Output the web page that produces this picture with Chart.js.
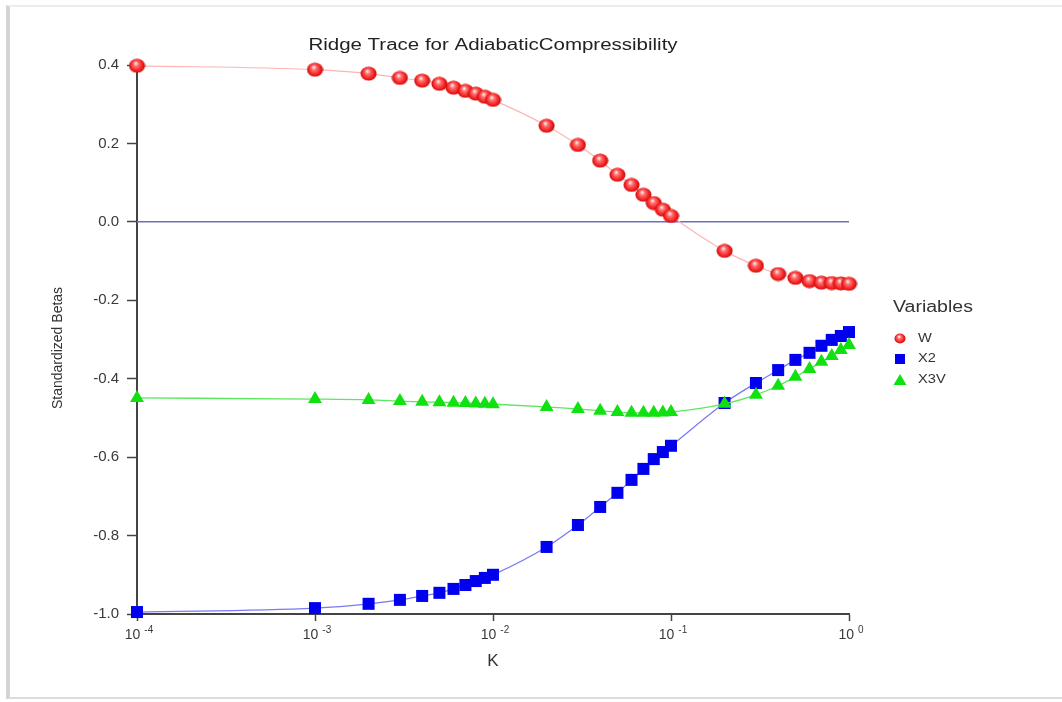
<!DOCTYPE html>
<html>
<head>
<meta charset="utf-8">
<script src="https://cdn.jsdelivr.net/npm/chart.js@4/dist/chart.umd.min.js"></script>
<style>
  html, body { margin: 0; padding: 0; background: #fff; }
  #wrap { position: relative; width: 1062px; height: 702px; }
  #frame {
    position: absolute; left: 6px; top: 5px; width: 1056px; height: 694px;
    border-left: 4px solid #d4d4d4; border-top: 2px solid #ececec; border-bottom: 2px solid #dcdcdc;
    box-sizing: border-box; pointer-events: none;
  }
</style>
</head>
<body>
<div id="wrap">
  <canvas id="c" width="1062" height="702"></canvas>
  <div id="frame"></div>
</div>
<script>
// ridge parameter K (log axis)
const kValues = [0.0001, 0.001, 0.002, 0.003, 0.004, 0.005, 0.006, 0.007, 0.008, 0.009,
                 0.01, 0.02, 0.03, 0.04, 0.05, 0.06, 0.07, 0.08, 0.09,
                 0.1, 0.2, 0.3, 0.4, 0.5, 0.6, 0.7, 0.8, 0.9, 1.0];

const betaW = [0.398, 0.388, 0.378, 0.367, 0.360, 0.352, 0.342, 0.334, 0.327, 0.319,
               0.311, 0.245, 0.196, 0.156, 0.120, 0.094, 0.069, 0.048, 0.031,
               0.015, -0.074, -0.112, -0.133, -0.143, -0.151, -0.155, -0.156, -0.157, -0.158];

const betaX2 = [-0.995, -0.985, -0.974, -0.964, -0.954, -0.946, -0.936, -0.926, -0.916, -0.908,
                -0.900, -0.829, -0.773, -0.727, -0.691, -0.658, -0.630, -0.605, -0.587,
                -0.571, -0.462, -0.411, -0.378, -0.352, -0.334, -0.316, -0.301, -0.291, -0.281];

const betaX3V = [-0.449, -0.452, -0.454, -0.457, -0.459, -0.460, -0.461, -0.462, -0.463, -0.464,
                 -0.465, -0.472, -0.477, -0.482, -0.485, -0.487, -0.487, -0.487, -0.486,
                 -0.485, -0.464, -0.441, -0.418, -0.395, -0.375, -0.357, -0.342, -0.327, -0.314];

const xTicks = [0.0001, 0.001, 0.01, 0.1, 1];
const yTicks = [0.4, 0.2, 0.0, -0.2, -0.4, -0.6, -0.8, -1.0];
const zeroLine = [0, 0];

const chartTitle = 'Ridge Trace for AdiabaticCompressibility';
const yTitle = 'Standardized Betas';
const legendTitle = 'Variables';
const legendNames = ['W', 'X2', 'X3V'];

const FONT = '"Liberation Sans", Arial, sans-serif';
const STRETCH = 1.22; // the original text is a bit wide

// shaded red ball used for the W markers
function makeBall(w, h) {
    const cv = document.createElement('canvas');
    cv.width = w; cv.height = h;
    const c = cv.getContext('2d');
    const g = c.createRadialGradient(w * 0.42, h * 0.33, 0.5, w / 2, h / 2, w / 2);
    g.addColorStop(0, '#ffe8e8');
    g.addColorStop(0.25, '#ff7070');
    g.addColorStop(0.65, '#f42424');
    g.addColorStop(1, '#c00000');
    c.fillStyle = g;
    c.beginPath();
    c.ellipse(w / 2, h / 2, w / 2 - 0.5, h / 2 - 0.5, 0, 0, Math.PI * 2);
    c.fill();
    return cv;
}
const ball = makeBall(17, 15);
const smallBall = makeBall(12, 11);

const pts = arr => kValues.map((k, i) => ({ x: k, y: arr[i] }));

// draws text squeezed/stretched horizontally around (x, y)
function wideText(ctx, text, x, y, align, sx) {
    ctx.save();
    ctx.translate(x, y);
    ctx.scale(sx, 1);
    ctx.textAlign = align;
    ctx.fillText(text, 0, 0);
    ctx.restore();
}

// titles, superscript x labels and legend
const extras = {
    id: 'extras',
    afterDraw(chart) {
        const ctx = chart.ctx;
        const xs = chart.scales.x;
        const area = chart.chartArea;
        ctx.save();

        // chart title
        ctx.fillStyle = '#222';
        ctx.font = '16px ' + FONT;
        ctx.textBaseline = 'middle';
        wideText(ctx, chartTitle, (area.left + area.right) / 2, 46, 'center', 1.28);

        // y title
        ctx.save();
        ctx.translate(58, 348);
        ctx.rotate(-Math.PI / 2);
        ctx.fillStyle = '#333';
        ctx.font = '14px ' + FONT;
        ctx.textAlign = 'center';
        ctx.fillText(yTitle, 0, 0);
        ctx.restore();

        // x tick labels 10^n
        ctx.fillStyle = '#3a3a3a';
        ctx.textBaseline = 'alphabetic';
        xTicks.forEach(v => {
            const px = xs.getPixelForValue(v);
            const exp = String(Math.round(Math.log10(v)));
            ctx.font = '14px ' + FONT;
            const bw = ctx.measureText('10').width;
            ctx.font = '10px ' + FONT;
            const ew = ctx.measureText(exp).width;
            const x0 = px - (bw + 4 + ew) / 2 + 2;
            ctx.font = '14px ' + FONT;
            ctx.textAlign = 'left';
            ctx.fillText('10', x0, 639);
            ctx.font = '10px ' + FONT;
            ctx.fillText(exp, x0 + bw + 4, 633);
        });

        // legend
        const lx = area.right + 44;
        ctx.textBaseline = 'middle';
        ctx.fillStyle = '#333';
        ctx.font = '16px ' + FONT;
        wideText(ctx, legendTitle, lx, 308, 'left', STRETCH);
        const mx = lx + 7;
        const rows = [339, 359, 380];
        ctx.drawImage(smallBall, mx - 6, rows[0] - 6);
        ctx.fillStyle = '#0000ee';
        ctx.fillRect(mx - 5, rows[1] - 5, 10, 10);
        ctx.fillStyle = '#11e011';
        ctx.beginPath();
        ctx.moveTo(mx, rows[2] - 6);
        ctx.lineTo(mx + 6.5, rows[2] + 5);
        ctx.lineTo(mx - 6.5, rows[2] + 5);
        ctx.closePath();
        ctx.fill();
        ctx.fillStyle = '#333';
        ctx.font = '12px ' + FONT;
        legendNames.forEach((n, i) => wideText(ctx, n, lx + 25, rows[i], 'left', STRETCH));
        ctx.restore();
    }
};

new Chart(document.getElementById('c'), {
    type: 'line',
    data: {
        datasets: [
            {
                label: 'zero', data: [{ x: xTicks[0], y: zeroLine[0] }, { x: xTicks[xTicks.length - 1], y: zeroLine[1] }],
                borderColor: '#6e6ec8', borderWidth: 1.5, pointRadius: 0, order: 5
            },
            {
                label: legendNames[0], data: pts(betaW),
                borderColor: '#ffb4b4', borderWidth: 1.2, cubicInterpolationMode: 'monotone',
                pointStyle: ball, pointRadius: 8, clip: false, order: 1
            },
            {
                label: legendNames[1], data: pts(betaX2),
                borderColor: '#7a7af4', borderWidth: 1.3, cubicInterpolationMode: 'monotone',
                pointStyle: 'rect', pointRadius: 8.5, pointBackgroundColor: '#0000ee',
                pointBorderColor: '#0000ee', pointBorderWidth: 0, clip: false, order: 3
            },
            {
                label: legendNames[2], data: pts(betaX3V),
                borderColor: '#5ce85c', borderWidth: 1.3, cubicInterpolationMode: 'monotone',
                pointStyle: 'triangle', pointRadius: 8, pointBackgroundColor: '#11e011',
                pointBorderColor: '#11e011', pointBorderWidth: 0, clip: false, order: 2
            }
        ]
    },
    options: {
        responsive: false, animation: false,
        layout: { padding: { left: 0, right: 213, top: 65, bottom: 0 } },
        plugins: {
            legend: { display: false },
            tooltip: { enabled: false },
            title: { display: false }
        },
        scales: {
            x: {
                type: 'logarithmic', min: 0.0001, max: 1,
                afterBuildTicks: s => { s.ticks = xTicks.map(v => ({ value: v, major: true })); },
                afterFit: s => { s.height = 88; },
                ticks: { callback: () => '', autoSkip: false },
                grid: { display: true, drawOnChartArea: false, tickLength: 7, tickColor: '#444', tickWidth: 1.5 },
                border: { display: true, color: '#444', width: 2 },
                title: { display: true, text: 'K', color: '#333', font: { family: FONT, size: 17 }, padding: { top: 0, bottom: 30 } }
            },
            y: {
                min: -1.0, max: 0.4,
                afterBuildTicks: s => { s.ticks = yTicks.map(v => ({ value: v })); },
                afterFit: s => { s.width = 137; },
                ticks: { callback: v => Number(v).toFixed(1), color: '#3a3a3a', font: { family: FONT, size: 15 }, padding: 8 },
                grid: { display: true, drawOnChartArea: false, tickLength: 10, tickColor: '#444', tickWidth: 1.5 },
                border: { display: true, color: '#444', width: 2 },
                title: { display: false }
            }
        }
    },
    plugins: [extras]
});
</script>
</body>
</html>
